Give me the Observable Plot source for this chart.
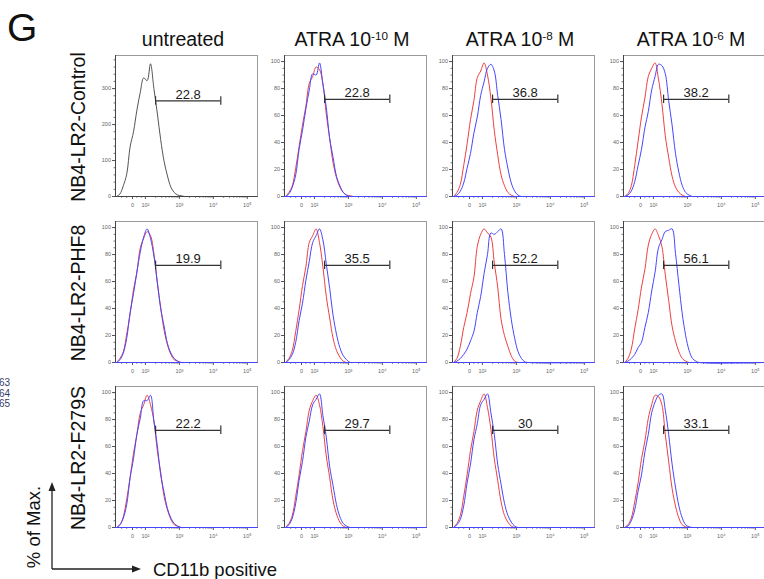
<!DOCTYPE html>
<html><head><meta charset="utf-8">
<script src="https://cdn.jsdelivr.net/npm/d3@7"></script>
<script src="https://cdn.jsdelivr.net/npm/@observablehq/plot@0.6"></script>
<style>
body{margin:0;background:#fff;font-family:Arial,"Liberation Sans",sans-serif;}
#wrap{position:relative;width:764px;height:579px;overflow:hidden;background:#fff;}
.abs{position:absolute;white-space:nowrap;color:#111;line-height:1;}
.col{font-size:19.5px;transform:translate(-50%,-50%);}
.rowl{font-size:19.5px;transform:translate(-50%,-50%) rotate(-90deg);}
sup{font-size:0.6em;vertical-align:0.55em;line-height:0;}
.panel{position:absolute;}
</style></head><body><div id="wrap"></div>
<script>
// ---------- data ----------
const panelLetter = "G";
const colBase = ["untreated", "ATRA 10", "ATRA 10", "ATRA 10"];
const colExp  = ["", "-10", "-8", "-6"];
const colUnit = ["", " M", " M", " M"];
const rowLabels = ["NB4-LR2-Control", "NB4-LR2-PHF8", "NB4-LR2-F279S"];
const yAxisTitle = "% of Max.";
const xAxisTitle = "CD11b positive";
const strayLabels = ["63", "64", "65"];

const gateValues = [
  [22.8, 22.8, 36.8, 38.2],
  [19.9, 35.5, 52.2, 56.1],
  [22.2, 29.7, 30, 33.1]
];
const gateStart = 2.3, gateEnd = 4.22, gateLevelPct = 72;

// x positions in display decades (10^2 = 2, ..., biexponential axis)
const xGrid = [1.15,1.25,1.35,1.45,1.55,1.65,1.75,1.85,1.95,2.05,2.15,2.25,2.35,2.45,2.55,2.65,2.75,2.85,2.95,3.05,3.15,3.25,3.35,5.3];

const xTickValues = [1.62, 2, 3, 4, 5];
const xTickLabels = ["0", "10²", "10³", "10⁴", "10⁵"];
const yTicksCount = [0, 100, 200, 300];
const yTicksPct = [0, 20, 40, 60, 80, 100];

// untreated control: counts
const controlCounts = [0,7,30,62,138,180,240,290,330,322,369,300,232,158,98,57,26,11,4,2,0,0,0,0];

// % of max, red = reference, blue = treated
const redR1C2  = [0,3,8,21,37,53,67,84,89,96,94,84,61,43,25,14,7,3,1,0.5,0,0,0,0];
const blueR1C2 = [0,2,7,16,35,49,65,79,91,90,99,83,66,43,29,15,8,3,1,0,0,0,0,0];
const redR1C3  = [0,3,9,23,39,57,71,88,93,99,90,73,49,31,16,8,3,1,0,0,0,0,0,0];
const blueR1C3 = [0,1,4,10,21,32,47,59,75,85,95,98,93,75,57,35,21,10,4,1,0,0,0,0];
const redR1C4  = [0,2,8,23,41,59,73,89,95,99,87,69,45,29,15,7,3,1,0,0,0,0,0,0];
const blueR1C4 = [0,1,4,11,23,35,51,63,79,89,98,97,91,71,53,32,18,8,3,1,0,0,0,0];

const redR2C1  = [0,3,8,21,36,54,67,85,92,97,94,81,59,41,24,13,6,2,1,0,0,0,0,0];
const blueR2C1 = [0,2,7,18,37,51,67,82,93,99,92,79,60,40,27,14,7,3,1,0,0,0,0,0];
const redR2C2  = [0,3,9,23,39,57,71,89,94,99,89,71,49,33,18,9,4,1,0,0,0,0,0,0];
const blueR2C2 = [0,2,6,15,31,44,61,75,89,94,99,91,73,55,35,21,11,5,2,0,0,0,0,0];
const redR2C3  = [0,3,12,26,37,51,63,86,95,99,96,93,74,56,32,20,12,5,1,0,0,0,0,0];
const blueR2C3 = [0,1,3,6,10,16,23,37,49,66,80,96,95,97,99,80,52,32,18,8,3,0.5,0,0];
const redR2C4  = [0,3,10,25,39,56,69,87,95,99,94,86,65,46,27,16,8,3,1,0,0,0,0,0];
const blueR2C4 = [0,1,3,6,11,15,26,37,53,67,85,91,97,98,99,81,58,36,20,9,3,1,0,0];

const redR3C1  = [0,2,8,21,37,55,69,85,91,98,91,79,57,41,23,13,6,2,1,0,0,0,0,0];
const blueR3C1 = [0,2,7,17,37,51,69,81,94,94,98,79,61,39,26,14,7,3,1,0,0,0,0,0];
const redR3C2  = [0,3,9,23,39,57,71,87,94,98,91,75,53,37,20,10,4,1,0,0,0,0,0,0];
const blueR3C2 = [0,2,7,18,35,49,67,79,91,95,99,83,67,45,31,17,8,3,1,0,0,0,0,0];
const redR3C3  = [0,3,9,23,39,57,71,87,94,99,89,73,51,35,19,9,4,1,0,0,0,0,0,0];
const blueR3C3 = [0,2,6,16,33,47,65,77,91,95,99,85,69,47,32,18,9,4,1,0,0,0,0,0];
const redR3C4  = [0,2,7,19,33,51,64,81,91,98,97,91,69,49,29,16,7,2,0.5,0,0,0,0,0];
const blueR3C4 = [0,1,5,13,27,39,56,69,85,93,98,99,87,69,47,30,16,7,2,0.5,0,0,0,0];

const curves = [
  [[controlCounts], [redR1C2, blueR1C2], [redR1C3, blueR1C3], [redR1C4, blueR1C4]],
  [[redR2C1, blueR2C1], [redR2C2, blueR2C2], [redR2C3, blueR2C3], [redR2C4, blueR2C4]],
  [[redR3C1, blueR3C1], [redR3C2, blueR3C2], [redR3C3, blueR3C3], [redR3C4, blueR3C4]]
];

// ---------- layout ----------
const W = 764, H = 579;
const frameLeft = [115, 284, 452, 623];
const frameTop = [55, 221, 386];
const frameW = 142, frameH = 141;
const mL = 20, mR = 1, mT = 1, mB = 16;
const xDomain = [1.12, 5.3];
const RED = "#ee4040", BLUE = "#4646ff", GRAY = "#555";

const wrap = document.getElementById("wrap");
function addDiv(html, cls, style) {
  const d = document.createElement("div");
  d.className = "abs " + (cls || "");
  d.innerHTML = html;
  Object.assign(d.style, style);
  wrap.appendChild(d);
  return d;
}

addDiv(panelLetter, "", {left: "7px", top: "8px", fontSize: "39px"});
colBase.forEach((b, i) => {
  const txt = b + (colExp[i] ? "<sup>" + colExp[i] + "</sup>" : "") + colUnit[i];
  addDiv(txt, "col", {left: (frameLeft[i] + frameW / 2 - 3) + "px", top: "40px"});
});
rowLabels.forEach((t, i) => {
  addDiv(t, "rowl", {left: "79px", top: (frameTop[i] + frameH / 2 + 1) + "px"});
});
addDiv(yAxisTitle, "rowl", {left: "34px", top: "527px", fontSize: "18.5px"});
addDiv(xAxisTitle, "", {left: "153px", top: "561px", fontSize: "18.5px"});
strayLabels.forEach((t, i) => {
  addDiv(t, "", {left: "-1px", top: (378 + i * 10.5) + "px", fontSize: "10px", color: "#3b3b66"});
});

// axis arrows
const svgNS = "http://www.w3.org/2000/svg";
const arrows = document.createElementNS(svgNS, "svg");
arrows.setAttribute("width", W); arrows.setAttribute("height", H);
arrows.style.position = "absolute"; arrows.style.left = "0"; arrows.style.top = "0";
arrows.innerHTML = `
  <path d="M52,569 V490 M52,569 H132" stroke="#222" stroke-width="1.3" fill="none"/>
  <path d="M52,482 L48.5,491 L55.5,491 Z" fill="#222"/>
  <path d="M141,569 L132,565.5 L132,572.5 Z" fill="#222"/>`;
wrap.appendChild(arrows);

// minor ticks
const xMinor = [1.3, 1.45, 1.75, 1.88];
[2, 3, 4].forEach(k => { for (let m = 2; m <= 9; m++) xMinor.push(k + Math.log10(m)); });

function drawPanel(r, c) {
  const isCount = (r === 0 && c === 0);
  const peak = isCount ? d3.max(controlCounts) : 100;
  const yMax = isCount ? 392 : 104.5;
  const yTicks = isCount ? yTicksCount : yTicksPct;
  const yMinor = isCount ? d3.range(0, 390, 20) : d3.range(0, 101, 5);
  const series = curves[r][c];
  const colors = isCount ? [GRAY] : [RED, BLUE];
  const rows = [];
  series.forEach((arr, s) => arr.forEach((v, i) => rows.push({x: xGrid[i], y: v, s})));
  const level = gateLevelPct / 100 * peak;
  const capH = yMax * 0.03;
  const gate = [{x1: gateStart, x2: gateEnd, y: level, label: String(gateValues[r][c])}];

  const marks = [
    Plot.frame({stroke: "#9a9a9a", strokeWidth: 1}),
    Plot.axisY(yMinor, {tickSize: 1.5, text: null, stroke: "#777", label: null}),
    Plot.axisY(yTicks, {tickSize: 3, tickPadding: 1.5, fontSize: 5.5, fill: "#666", stroke: "#555", label: null}),
    Plot.axisX(xMinor, {tickSize: 1.8, text: null, stroke: "#777", label: null}),
    Plot.axisX(xTickValues, {tickSize: 3, tickPadding: 4, fontSize: 5.5, fill: "#666", stroke: "#555", label: null,
      tickFormat: d => xTickLabels[xTickValues.indexOf(d)]}),
    Plot.ruleX([xDomain[0]], {stroke: "#444", strokeWidth: 1}),
    ...series.map((_, s) => Plot.line(rows.filter(d => d.s === s), {
      x: "x", y: "y", stroke: colors[s], strokeWidth: 1, curve: "catmull-rom"})),
    Plot.ruleY([0], {stroke: isCount ? "#444" : BLUE, strokeWidth: 1}),
    Plot.ruleY(gate, {y: "y", x1: "x1", x2: "x2", stroke: "#333", strokeWidth: 1.2}),
    Plot.ruleX(gate, {x: "x1", y1: d => d.y - capH, y2: d => d.y + capH, stroke: "#333", strokeWidth: 1.2}),
    Plot.ruleX(gate, {x: "x2", y1: d => d.y - capH, y2: d => d.y + capH, stroke: "#333", strokeWidth: 1.2}),
    Plot.text(gate, {x: d => (d.x1 + d.x2) / 2, y: "y", text: "label", lineAnchor: "bottom", dy: -2,
      fontSize: 13, fill: "#1a1a1a", fontFamily: "Arial"})
  ];

  const chart = Plot.plot({
    width: frameW + mL + mR, height: frameH + mT + mB,
    marginLeft: mL, marginRight: mR, marginTop: mT, marginBottom: mB,
    style: {fontFamily: "Arial, sans-serif", background: "transparent", overflow: "visible"},
    x: {type: "linear", domain: xDomain, label: null},
    y: {type: "linear", domain: [0, yMax], label: null},
    marks
  });
  chart.classList.add("panel");
  chart.style.left = (frameLeft[c] - mL) + "px";
  chart.style.top = (frameTop[r] - mT) + "px";
  chart.style.position = "absolute";
  wrap.appendChild(chart);
}

for (let r = 0; r < 3; r++) for (let c = 0; c < 4; c++) drawPanel(r, c);
</script></body></html>
